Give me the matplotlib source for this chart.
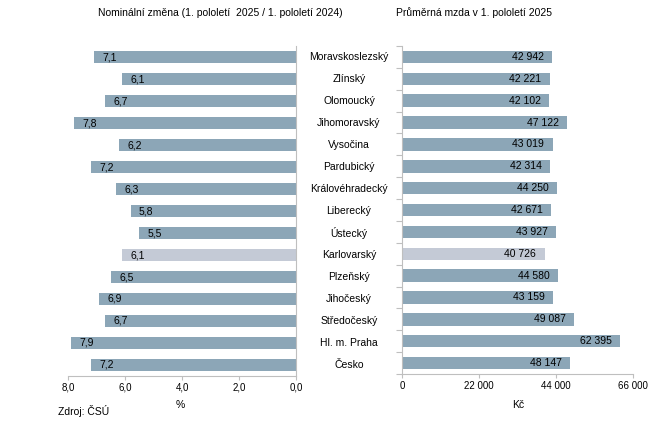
import matplotlib
matplotlib.use("Agg")
import matplotlib.pyplot as plt
from matplotlib.ticker import FuncFormatter

plt.rcParams["font.family"] = ["Liberation Sans", "DejaVu Sans"]
plt.rcParams["font.size"] = 7.5

# data
kraje = ["Moravskoslezský", "Zlínský", "Olomoucký", "Jihomoravský", "Vysočina",
         "Pardubický", "Královéhradecký", "Liberecký", "Ústecký", "Karlovarský",
         "Plzeňský", "Jihočeský", "Středočeský", "Hl. m. Praha", "Česko"]
zmena = [7.1, 6.1, 6.7, 7.8, 6.2, 7.2, 6.3, 5.8, 5.5, 6.1, 6.5, 6.9, 6.7, 7.9, 7.2]
mzda = [42942, 42221, 42102, 47122, 43019, 42314, 44250, 42671, 43927, 40726,
        44580, 43159, 49087, 62395, 48147]
zvyraznit = "Karlovarský"

c_bar = "#8ca6b7"
c_hl = "#c4cad6"
c_axis = "#bfbfbf"
barvy = [c_hl if k == zvyraznit else c_bar for k in kraje]
y = list(range(len(kraje)))

fig = plt.figure(figsize=(6.49, 4.21), dpi=100)
axL = fig.add_axes([0.1048, 0.1069, 0.3513, 0.7838])
axR = fig.add_axes([0.6194, 0.1116, 0.3559, 0.7791])

# levy graf - nominalni zmena
axL.barh(y, zmena, height=0.57, color=barvy)
axL.set_xlim(8, 0)
axL.set_ylim(len(kraje) - 0.5, -0.5)
axL.set_xticks([8, 6, 4, 2, 0])
axL.xaxis.set_major_formatter(FuncFormatter(lambda v, p: "{:.1f}".format(v).replace(".", ",")))
axL.set_yticks([])
for s in ["top", "left"]:
    axL.spines[s].set_visible(False)
for s in ["bottom", "right"]:
    axL.spines[s].set_color(c_axis)
axL.tick_params(axis="x", colors=c_axis, labelcolor="black", length=3, pad=2, labelsize=7)
for i, v in enumerate(zmena):
    axL.annotate("{:.1f}".format(v).replace(".", ","), (v, i), xytext=(6, 0),
                 textcoords="offset points", ha="left", va="center", fontsize=7.5)

# pravy graf - prumerna mzda
axR.barh(y, mzda, height=0.57, color=barvy)
axR.set_xlim(0, 66000)
axR.set_ylim(len(kraje) - 0.5, -0.5)
axR.set_xticks([0, 22000, 44000, 66000])
axR.xaxis.set_major_formatter(FuncFormatter(lambda v, p: "{:,.0f}".format(v).replace(",", " ")))
axR.set_yticks([i - 0.5 for i in range(len(kraje) + 1)])
axR.set_yticklabels([])
for s in ["top", "right"]:
    axR.spines[s].set_visible(False)
for s in ["bottom", "left"]:
    axR.spines[s].set_color(c_axis)
axR.tick_params(axis="x", colors=c_axis, labelcolor="black", length=3, pad=2, labelsize=7)
axR.tick_params(axis="y", colors=c_axis, length=4)
for i, v in enumerate(mzda):
    axR.annotate("{:,.0f}".format(v).replace(",", " "), (v, i), xytext=(-6, 0),
                 textcoords="offset points", ha="right", va="center", fontsize=7.5)

# nazvy kraju uprostred
for i, k in enumerate(kraje):
    fig.text(0.5378, axL.transData.transform((0, i))[1] / fig.bbox.height, k,
             ha="center", va="center", fontsize=7.5)

fig.text(0.339, 0.969, "Nominální změna (1. pololetí  2025 / 1. pololetí 2024)",
         ha="center", va="center", fontsize=7.5)
fig.text(0.730, 0.969, "Průměrná mzda v 1. pololetí 2025", ha="center", va="center", fontsize=7.5)
fig.text(0.277, 0.038, "%", ha="center", va="center", fontsize=7.5)
fig.text(0.798, 0.038, "Kč", ha="center", va="center", fontsize=7.5)
fig.text(0.089, 0.024, "Zdroj: ČSÚ", ha="left", va="center", fontsize=7.5)

fig.savefig("out.png", dpi=100)
